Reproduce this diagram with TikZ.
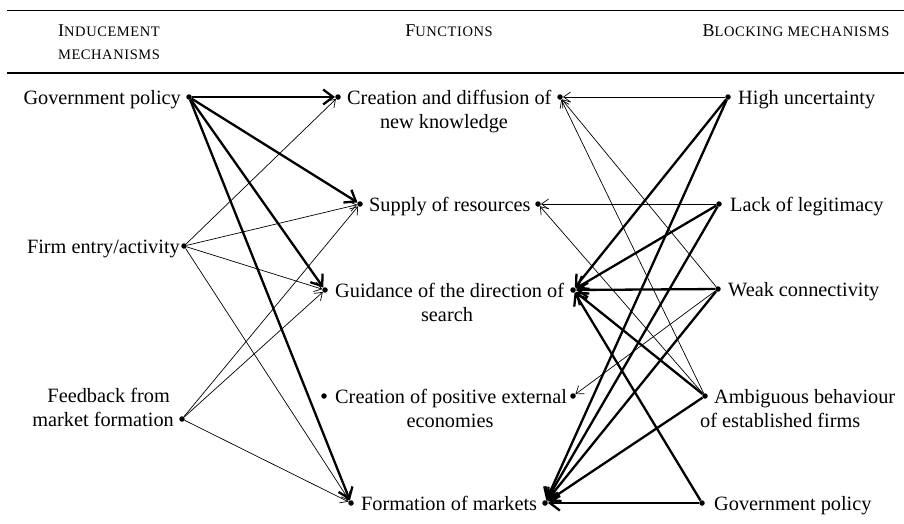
\documentclass[tikz,border=0pt]{standalone}
\usepackage{fontspec}
\setmainfont{Liberation Serif}
\newfontfamily\scfont{Liberation Serif}[LetterSpace=4]
\usetikzlibrary{arrows.meta}
\newcommand{\myhdr}[2]{{\fontsize{18}{20}\selectfont #1}{\scfont\fontsize{14.5}{16}\selectfont #2}}
\begin{document}
\begin{tikzpicture}[x=1pt,y=-1pt,
  dotnode/.style={circle,fill=black,inner sep=0pt,minimum size=5.5pt},
  lbl/.style={inner sep=0pt,font=\fontsize{20.3}{24}\selectfont},
  hdrtxt/.style={inner sep=0pt,anchor=base},
  thinarr/.style={line width=0.7pt,-{Straight Barb[length=7pt,width=10pt]}},
  thickarr/.style={line width=2.3pt,-{Straight Barb[length=10pt,width=15pt]}}]
\useasboundingbox (0,0) rectangle (904,523);
% rules
\coordinate (rtl) at (7,10); \coordinate (rtr) at (904,10);
\coordinate (rbl) at (7,73); \coordinate (rbr) at (904,73);
\draw[line width=1pt] (rtl) -- (rtr);
\draw[line width=1.6pt] (rbl) -- (rbr);
% headers
\node[hdrtxt] (h1) at (109,36) {\myhdr{I}{NDUCEMENT}};
\node[hdrtxt] (h1b) at (109,59) {\myhdr{}{MECHANISMS}};
\node[hdrtxt] (h2) at (449,36) {\myhdr{F}{UNCTIONS}};
\node[hdrtxt] (h3) at (796,36) {\myhdr{B}{LOCKING MECHANISMS}};
% dots
\node[dotnode] (govl) at (189,97) {};
\node[dotnode] (firm) at (184,246) {};
\node[dotnode] (feed) at (182,419) {};
\node[dotnode] (f1l) at (338,97) {};
\node[dotnode] (f1r) at (560,97) {};
\node[dotnode] (f2l) at (360,204) {};
\node[dotnode] (f2r) at (538,204) {};
\node[dotnode] (f3l) at (325,290) {};
\node[dotnode] (f3r) at (573,290) {};
\node[dotnode] (f4l) at (324,396) {};
\node[dotnode] (f4r) at (573,396) {};
\node[dotnode] (f5l) at (351,503) {};
\node[dotnode] (f5r) at (545,503) {};
\node[dotnode] (hu) at (728,97) {};
\node[dotnode] (lol) at (719,204) {};
\node[dotnode] (wc) at (718,289) {};
\node[dotnode] (amb) at (705,396) {};
\node[dotnode] (govr) at (702,503) {};
% labels
\node[lbl,anchor=base east] (tgovl) at (181,104) {Government policy};
\node[lbl,anchor=base east] (tfirm) at (180,253) {Firm entry/activity};
\node[lbl,anchor=base east] (tfeed1) at (170,402) {Feedback from};
\node[lbl,anchor=base east] (tfeed2) at (174,426) {market formation};
\node[lbl,anchor=base west] (tf1a) at (347,104) {Creation and diffusion of};
\node[lbl,anchor=base] (tf1b) at (444,128) {new knowledge};
\node[lbl,anchor=base west] (tf2) at (369,211) {Supply of resources};
\node[lbl,anchor=base west] (tf3a) at (335,297) {Guidance of the direction of};
\node[lbl,anchor=base] (tf3b) at (447,321) {search};
\node[lbl,anchor=base west] (tf4a) at (335,403) {Creation of positive external};
\node[lbl,anchor=base] (tf4b) at (450,427) {economies};
\node[lbl,anchor=base west] (tf5) at (361,510) {Formation of markets};
\node[lbl,anchor=base west] (thu) at (738,104) {High uncertainty};
\node[lbl,anchor=base west] (tlol) at (730,211) {Lack of legitimacy};
\node[lbl,anchor=base west] (twc) at (728,296) {Weak connectivity};
\node[lbl,anchor=base west] (tamb1) at (714,403) {Ambiguous behaviour};
\node[lbl,anchor=base west] (tamb2) at (700,427) {of established firms};
\node[lbl,anchor=base west] (tgovr) at (714,510) {Government policy};
% left connectors
\draw[thickarr] (govl) -- (f1l);
\draw[thickarr] (govl) -- (f2l);
\draw[thickarr] (govl) -- (f3l);
\draw[thickarr] (govl) -- (f5l);
\draw[thinarr] (firm) -- (f1l);
\draw[thinarr] (firm) -- (f2l);
\draw[thinarr] (firm) -- (f3l);
\draw[thinarr] (firm) -- (f5l);
\draw[thinarr] (feed) -- (f2l);
\draw[thinarr] (feed) -- (f3l);
\draw[thinarr] (feed) -- (f5l);
% right connectors
\draw[thinarr] (hu) -- (f1r);
\draw[thickarr] (hu) -- (f3r);
\draw[thickarr] (hu) -- (f5r);
\draw[thinarr] (lol) -- (f2r);
\draw[thickarr] (lol) -- (f3r);
\draw[thickarr] (lol) -- (f5r);
\draw[thinarr] (wc) -- (f1r);
\draw[thickarr] (wc) -- (f3r);
\draw[thinarr] (wc) -- (f4r);
\draw[thickarr] (wc) -- (f5r);
\draw[thinarr] (amb) -- (f1r);
\draw[thinarr] (amb) -- (f2r);
\draw[thickarr] (amb) -- (f3r);
\draw[thickarr] (amb) -- (f5r);
\draw[thickarr] (govr) -- (f3r);
\draw[thickarr] (govr) -- (f5r);
\end{tikzpicture}
\end{document}
